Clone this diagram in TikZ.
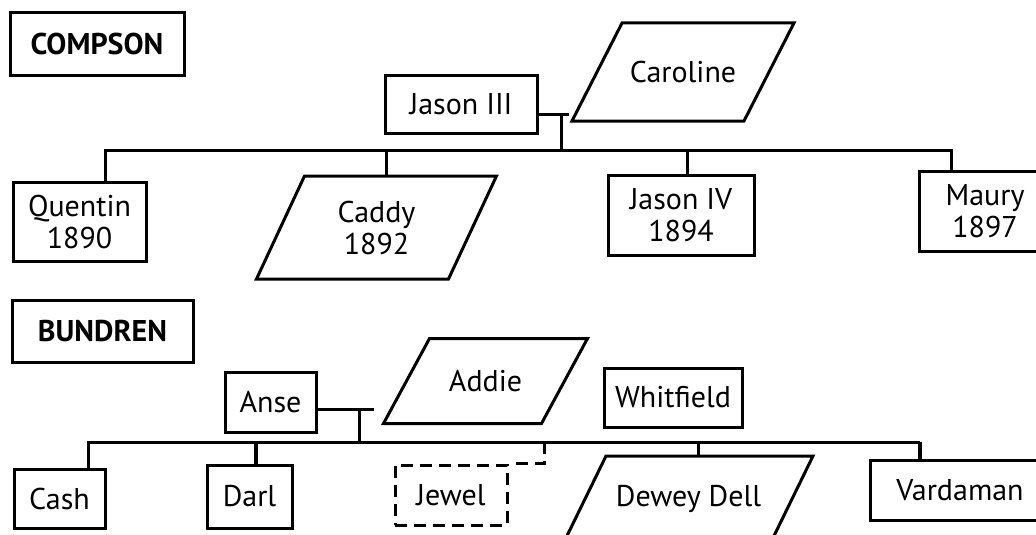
\documentclass[tikz,border=0pt]{standalone}
\usepackage{fontspec}
\setmainfont{PT Sans}
% slanted box round a named node: node, horizontal slant
\newcommand\slantbox[2]{\draw ([xshift=#2/2]#1.north west) -- ([xshift=#2/2]#1.north east)
  -- ([xshift=-#2/2]#1.south east) -- ([xshift=-#2/2]#1.south west) -- cycle;}
\begin{document}
\begin{tikzpicture}[x=1pt,y=-1pt,line width=3pt,
  box/.style={draw,rectangle,inner sep=0pt,align=center,font=\fontsize{30}{32}\selectfont},
  wife/.style={rectangle,inner sep=0pt,outer sep=0pt,align=center,font=\fontsize{30}{32}\selectfont},
  fam/.style={box,font=\bfseries\fontsize{30}{32}\selectfont}]
\clip (0,0) rectangle (1036,535);
% Compson
\node[fam,minimum width=174,minimum height=63] (compson) at (97,44.5) {COMPSON};
\node[box,minimum width=152,minimum height=57] (jasonIII) at (461,104.5) {Jason III};
\node[wife,minimum width=172,minimum height=98] (caroline) at (683,72) {Caroline};
\slantbox{caroline}{50}
\node[box,minimum width=133,minimum height=79] (quentin) at (79.5,221.5) {Quentin\\1890};
\node[wife,minimum width=192,minimum height=103] (caddy) at (376.5,227.5) {Caddy\\1892};
\slantbox{caddy}{48}
\node[box,minimum width=146,minimum height=80] (jasonIV) at (681,215) {Jason IV\\1894};
\node[box,minimum width=132,minimum height=80] (maury) at (985,211) {Maury\\1897};
\coordinate (cm) at (561,114);
\coordinate (cl) at (105,150);
\coordinate (cr) at (951,150);
\draw (jasonIII.east|-cm) -- ([xshift=-28]caroline.south west|-cm);
\draw (cm) -- (cm|-cl);
\draw (cl|-quentin.north) -- (cl) -- (cr) -- (cr|-maury.north);
\foreach \n/\x in {caddy/386,jasonIV/687}{
  \coordinate (d) at (\x,150);
  \draw (d) -- (d|-\n.north);}
% Bundren
\node[fam,minimum width=181,minimum height=62] (bundren) at (102.5,331) {BUNDREN};
\node[box,minimum width=91,minimum height=60] (anse) at (270.5,402) {Anse};
\node[wife,minimum width=158,minimum height=85] (addie) at (485.5,381) {Addie};
\slantbox{addie}{46}
\node[box,minimum width=138,minimum height=59] (whitfield) at (673,397.5) {Whitfield};
\node[box,minimum width=91,minimum height=59] (cash) at (59.5,498.5) {Cash};
\node[box,minimum width=85,minimum height=63] (darl) at (249.5,496.5) {Darl};
\node[box,dash pattern=on 12pt off 7pt,minimum width=112,minimum height=60] (jewel) at (451,495) {Jewel};
\node[wife,minimum width=207,minimum height=86] (dewey) at (688.5,499) {Dewey Dell};
\slantbox{dewey}{42}
\node[box,minimum width=180,minimum height=60] (vardaman) at (960,490) {Vardaman};
\coordinate (bm) at (359,409);
\coordinate (bl) at (88,442);
\coordinate (br) at (920,442);
\draw (anse.east|-bm) -- ([xshift=-33]addie.south west|-bm);
\draw (bm) -- (bm|-bl);
\draw (bl|-cash.north) -- (bl) -- (br);
\draw[line width=4.5pt] (br) -- (br|-vardaman.north);
\draw[line width=4pt] (darl.north-|256,0) -- (256,442);
\coordinate (jd) at (544,442);
\draw[dash pattern=on 12pt off 7pt] (jd) -- (jd|-jewel.north) -- (jewel.north east);
\coordinate (dd) at (698,442);
\draw (dd) -- (dd|-dewey.north);
\end{tikzpicture}
\end{document}
